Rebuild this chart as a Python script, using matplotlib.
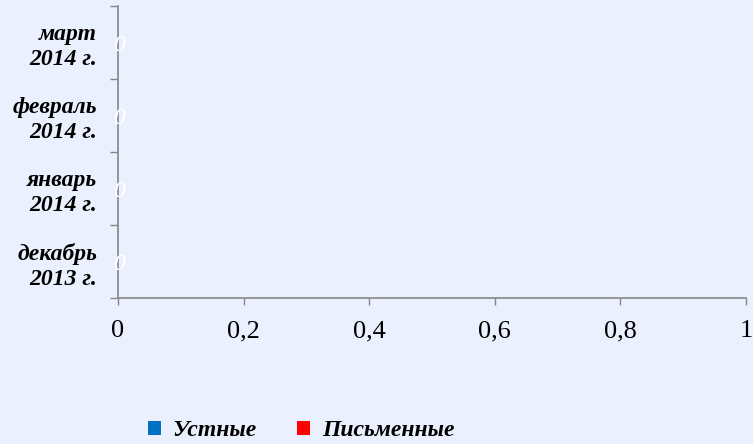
import numpy as np
import matplotlib
matplotlib.use("Agg")
from matplotlib import pyplot as plt
from matplotlib.ticker import FixedLocator

# данные
categories = ["декабрь\n2013 г.", "январь\n2014 г.", "февраль\n2014 г.", "март\n2014 г."]
ustnye = [0, 0, 0, 0]
pismennye = [0, 0, 0, 0]
xticks = [0, 0.2, 0.4, 0.6, 0.8, 1]
xtick_labels = ["0", "0,2", "0,4", "0,6", "0,8", "1"]

bg = "#EAF0FD"
axis_col = "#868686"

plt.rcParams['font.family'] = ['Liberation Serif', 'DejaVu Serif']

fig = plt.figure(figsize=(7.53, 4.44), dpi=100, facecolor=bg)
ax = fig.add_axes([118/753, 1 - 298/444, 628/753, 292/444])
ax.set_facecolor(bg)

y = np.arange(len(categories))
b1 = ax.barh(y, ustnye, height=0.6, color="#0070C0", label="Устные")
b2 = ax.barh(y, pismennye, height=0.6, color="#FF0000", label="Письменные")
for bars, vals in ((b1, ustnye), (b2, pismennye)):
    labs = ax.bar_label(bars, labels=[str(v) for v in vals], label_type="center",
                        color="white", fontsize=17, fontstyle="italic")
    for t in labs:
        t.xyann = (1, -2)  # чуть ниже центра, как в оригинале

ax.set_xlim(0, 1)
ax.set_ylim(-0.5, len(categories) - 0.5)

ax.set_xticks(xticks)
ax.set_xticklabels(xtick_labels, fontsize=19)
ax.tick_params(axis="x", direction="out", length=5, width=1, color=axis_col, pad=11)

# штрихи на границах категорий, подписи по центру
ax.yaxis.set_major_locator(FixedLocator(np.arange(-0.5, len(categories), 1)))
ax.yaxis.set_major_formatter(plt.NullFormatter())
ax.yaxis.set_minor_locator(FixedLocator(y))
ax.set_yticklabels(categories, minor=True, fontsize=17, fontweight="bold",
                   fontstyle="italic", ha="right", linespacing=1.25)
ax.tick_params(axis="y", which="major", direction="out", length=6, width=1, color=axis_col)
ax.tick_params(axis="y", which="minor", length=0, pad=15)

for s in ("top", "right"):
    ax.spines[s].set_visible(False)
for s in ("left", "bottom"):
    ax.spines[s].set_color(axis_col)
    ax.spines[s].set_linewidth(1.2)

leg = fig.legend(handles=[b1, b2], loc="center", bbox_to_anchor=(0.40, 0.03), ncol=2,
                 frameon=False, handlelength=0.55, handleheight=0.55, handletextpad=0.5,
                 columnspacing=1.7, prop={"size": 17, "weight": "bold", "style": "italic"})

fig.savefig("out.png", dpi=100, facecolor=bg)
